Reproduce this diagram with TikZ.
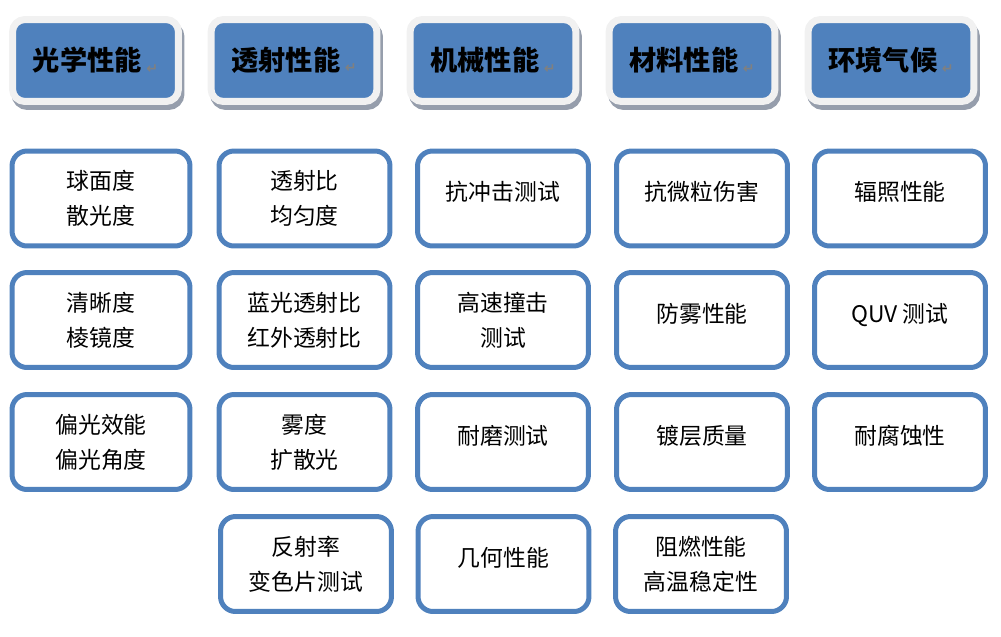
\documentclass[tikz,border=0pt]{standalone}
\usepackage{fontspec}
\setmainfont{Noto Sans CJK SC}
\newfontfamily\symfont{DejaVu Sans}
\usetikzlibrary{shadows}
\definecolor{boxblue}{RGB}{79,129,189}
\definecolor{framegray}{RGB}{241,241,241}
\definecolor{shadegray}{RGB}{150,158,172}
\newcommand{\retmark}{\,{\symfont\fontsize{8}{8}\selectfont\color{gray}\raisebox{-0.3ex}{↵}}}

\begin{document}
\begin{tikzpicture}[x=0.02cm,y=-0.02cm,
  head/.style={fill=boxblue, draw=framegray, line width=0.14cm, rounded corners=0.25cm,
    minimum width=3.32cm, minimum height=1.64cm, font=\fontsize{15.5}{18}\selectfont\bfseries,
    drop shadow={shadow xshift=0.05cm, shadow yshift=-0.1cm, fill=shadegray, draw=shadegray, line width=0.14cm, opacity=1}},
  item/.style={draw=boxblue, line width=0.1cm, rounded corners=0.3cm, fill=white,
    minimum width=3.42cm, minimum height=1.9cm, align=center, font=\fontsize{13}{20}\selectfont},
  single/.style={item, text depth=0.3cm},
  wide/.style={minimum width=3.56cm}]
\useasboundingbox (0,0) rectangle (1001,636);

% headers
\node[head] (h1) at (95.5,60.5) {光学性能\retmark};
\node[head] (h2) at (294,60.5) {透射性能\retmark};
\node[head] (h3) at (493,60.5) {机械性能\retmark};
\node[head] (h4) at (692,60.5) {材料性能\retmark};
\node[head] (h5) at (891,60.5) {环境气候\retmark};

% optics
\node[item,wide] (o1) at (101,198.5) {球面度\\散光度};
\node[item,wide] (o2) at (101,320) {清晰度\\棱镜度};
\node[item,wide] (o3) at (101,442) {偏光效能\\偏光角度};

% transmission
\node[item] (t1) at (304.5,198.5) {透射比\\均匀度};
\node[item] (t2) at (304.5,320) {蓝光透射比\\红外透射比};
\node[item] (t3) at (304.5,442) {雾度\\扩散光};
\node[item] (t4) at (306,564) {反射率\\变色片测试};

% mechanics
\node[single] (m1) at (503,198.5) {抗冲击测试};
\node[item] (m2) at (503,320) {高速撞击\\测试};
\node[single] (m3) at (503,442) {耐磨测试};
\node[single] (m4) at (503.5,564) {几何性能};

% materials
\node[single] (s1) at (702,198.5) {抗微粒伤害};
\node[single] (s2) at (702,320) {防雾性能};
\node[single] (s3) at (702,442) {镀层质量};
\node[item] (s4) at (701,564) {阻燃性能\\高温稳定性};

% climate
\node[single] (c1) at (900,198.5) {辐照性能};
\node[single] (c2) at (900,320) {QUV 测试};
\node[single] (c3) at (900,442) {耐腐蚀性};
\end{tikzpicture}
\end{document}
